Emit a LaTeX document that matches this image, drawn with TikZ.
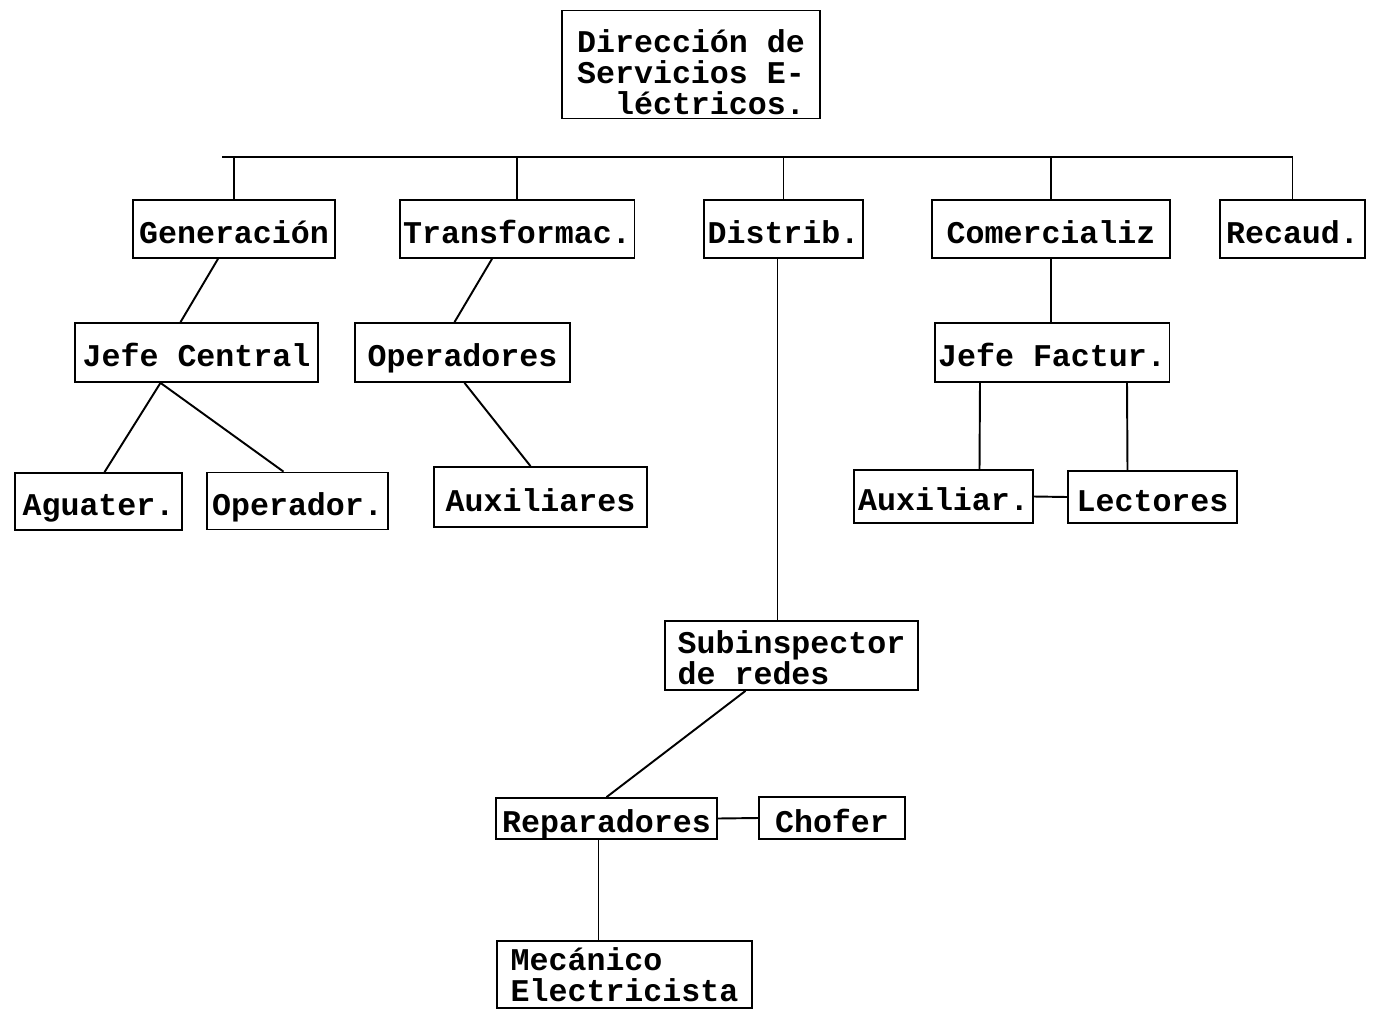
\documentclass[tikz,border=0pt]{standalone}
\usepackage{fontspec}
\newfontfamily\typewr{Liberation Mono}
\usetikzlibrary{calc}

\begin{document}
\begin{tikzpicture}[
    x=0.02cm, y=-0.02cm,
    box/.style={rectangle, draw, line width=1pt, inner sep=2pt, text height=17pt, text depth=1pt, font=\typewr\bfseries\fontsize{18}{17.6}\selectfont},
    tbox/.style={rectangle, draw, line width=1pt, inner sep=2pt, align=left, font=\typewr\bfseries\fontsize{18}{17.6}\selectfont},
    line/.style={draw, line width=1.1pt}
]
\useasboundingbox (0,0) rectangle (1376,1011);

% Top
\node[tbox, minimum width=5.16cm, minimum height=2.14cm] (dir) at (691,64.5) {\rule{0pt}{22pt}Dirección de\\Servicios E-\\\hspace*{1.2em}léctricos.};

% Departments
\node[box, minimum width=4.04cm, minimum height=1.16cm] (gen) at (234,229) {Generación};
\node[box, minimum width=4.64cm, minimum height=1.16cm] (trans) at (517,229) {Transformac.};
\node[box, minimum width=3.14cm, minimum height=1.16cm] (distr) at (783.5,229) {Distrib.};
\node[box, minimum width=4.76cm, minimum height=1.16cm] (comer) at (1051,229) {Comercializ};
\node[box, minimum width=2.90cm, minimum height=1.16cm] (recaud) at (1292.5,229) {Recaud.};

% Second level
\node[box, minimum width=4.86cm, minimum height=1.18cm] (jefec) at (196.5,352.5) {Jefe Central};
\node[box, minimum width=4.30cm, minimum height=1.18cm] (oper) at (462.5,352.5) {Operadores};
\node[box, minimum width=4.56cm, minimum height=1.18cm] (jfact) at (1052,352.5) {Jefe Factur.};

% Third level
\node[box, minimum width=3.34cm, minimum height=1.14cm] (agua) at (98.5,501.5) {Aguater.};
\node[box, minimum width=3.62cm, minimum height=1.14cm] (opdr) at (297.5,501) {Operador.};
\node[box, minimum width=4.26cm, minimum height=1.20cm] (auxs) at (540.5,497) {Auxiliares};
\node[box, minimum width=3.58cm, minimum height=1.06cm] (auxl) at (943.5,496.5) {Auxiliar.};
\node[box, minimum width=3.38cm, minimum height=1.04cm] (lect) at (1152.5,497) {Lectores};

% Distribution branch
\node[tbox, minimum width=5.06cm, minimum height=1.38cm] (subi) at (791.5,655.5) {\rule{0pt}{16pt}Subinspector\\de redes};
\node[box, minimum width=4.42cm, minimum height=0.82cm] (repar) at (606.5,818.5) {Reparadores};
\node[box, minimum width=2.92cm, minimum height=0.84cm] (chofer) at (832,818) {Chofer};
\node[tbox, minimum width=5.10cm, minimum height=1.34cm] (mec) at (624.5,974.5) {Mecánico\\Electricista};

% Bus
\coordinate (bus) at (0,157);
\draw[line] ($(gen.north |- bus)+(-12,0)$) -- (recaud.north |- bus);
\foreach \n in {gen,trans,distr,comer,recaud}
    \draw[line] (\n.north) -- (\n.north |- bus);

% Links
\draw[line] ($(gen.south)+(-16,0)$) -- ($(jefec.north)+(-16,0)$);
\draw[line] ($(trans.south)+(-25,0)$) -- ($(oper.north)+(-8,0)$);
\draw[line] (comer.south) -- (comer.south |- jfact.north);
\draw[line] ($(jefec.south)+(-36,0)$) -- ($(agua.north)+(6,0)$);
\draw[line] ($(jefec.south)+(-36,0)$) -- ($(opdr.north)+(-14,0)$);
\draw[line] ($(oper.south)+(2,0)$) -- ($(auxs.north)+(-10,0)$);
\draw[line] ($(jfact.south)+(-72,0)$) -- ($(auxl.north)+(36,0)$);
\draw[line] ($(jfact.south)+(75,0)$) -- ($(lect.north)+(-25,0)$);
\draw[line] (auxl.east) -- (lect.west);
\draw[line] ($(distr.south)+(-6,0)$) -- ($(subi.north)+(-14,0)$);
\draw[line] ($(subi.south)+(-46,0)$) -- (repar.north);
\draw[line] (repar.east) -- (chofer.west);
\draw[line] ($(repar.south)+(-8,0)$) -- ($(mec.north)+(-26,0)$);

\end{tikzpicture}
\end{document}
